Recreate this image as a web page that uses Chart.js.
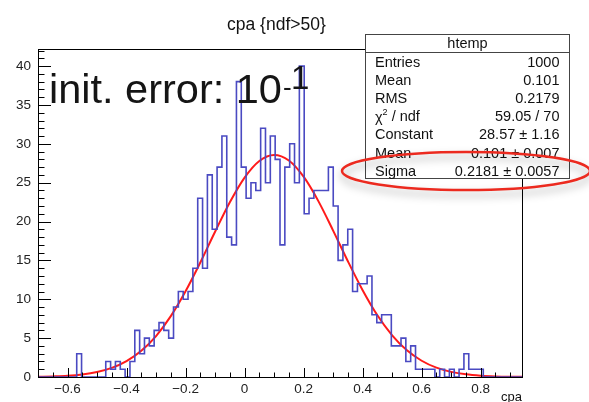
<!DOCTYPE html>
<html>
<head>
<meta charset="utf-8">
<script src="https://cdn.jsdelivr.net/npm/chart.js@4.4.1/dist/chart.umd.min.js"></script>
<style>
    body { margin: 0; background: #fff; }
    canvas { display: block; }
</style>
</head>
<body>
<canvas id="cpaChart" width="589" height="402"></canvas>
<script>
// #############################################################################
// Data

// htemp binning: 100 bins starting at -0.7
const binLow = -0.7;
const binWidth = 0.0164;
const binCounts = [
    0, 0, 0, 0, 0, 0, 0, 0, 3, 0, 0, 0, 0, 0,
    2, 1, 2, 1, 0, 2, 6, 3, 5, 4,
    6, 7, 6, 5, 9, 11, 10, 11, 14, 23,
    14, 26, 19, 27, 31, 18, 17, 38, 27, 23,
    25, 24, 32, 25, 31, 28, 17, 27, 30, 25,
    40, 21, 23, 24, 24, 24, 27, 22, 15, 17,
    19, 11, 12, 12, 13, 8, 7, 8, 8, 4,
    4, 5, 2, 4, 1, 1, 1, 1, 0, 1,
    0, 1, 0, 1, 3, 1, 1, 1, 0, 0,
    0, 0, 0, 0, 0, 0,
];

// gaussian fit curve
const fitX = [
    -0.7, -0.65, -0.6, -0.55, -0.5, -0.45, -0.4, -0.35, -0.3, -0.25, -0.2,
    -0.15, -0.1, -0.05, 0, 0.05, 0.1, 0.15, 0.2, 0.25, 0.3, 0.35, 0.4,
    0.45, 0.5, 0.55, 0.6, 0.65, 0.7, 0.75, 0.8, 0.85, 0.9, 0.94,
];
const fitY = [
    0.03, 0.08, 0.16, 0.33, 0.64, 1.17, 2.04, 3.37, 5.27, 7.83, 11.03,
    14.73, 18.68, 22.48, 25.66, 27.8, 28.57, 27.86, 25.77, 22.63, 18.84, 14.89, 11.17,
    7.94, 5.36, 3.43, 2.09, 1.2, 0.66, 0.34, 0.17, 0.08, 0.035, 0.017,
];

// axis labels
const xTicks = [-0.6, -0.4, -0.2, 0, 0.2, 0.4, 0.6, 0.8];
const yTicks = [0, 5, 10, 15, 20, 25, 30, 35, 40];

// stats box
const statsTitle = "htemp";
const statsNames = ["Entries", "Mean", "RMS", "chi2", "Constant", "Mean", "Sigma"];
const statsValues = ["1000", "0.101", "0.2179", "59.05 / 70", "28.57 \u00b1 1.16", "0.101 \u00b1 0.007", "0.2181 \u00b1 0.0057"];

const plotTitle = "cpa {ndf>50}";
const xTitle = "cpa";

// #############################################################################
// Drawing helpers

const fontName = "'Liberation Sans', Arial, sans-serif";

// ROOT style frame with inward ticks, stats box and annotations
const rootDecor = {
    id: "rootDecor",
    afterDatasetsDraw(chart) {
        const ctx = chart.ctx;
        const area = chart.chartArea;
        const xs = chart.scales.x;
        const ys = chart.scales.y;

        ctx.save();
        ctx.strokeStyle = "#000";
        ctx.lineWidth = 1;

        // ticks on x axis (minor every 0.05)
        ctx.beginPath();
        for (let k = -14; k <= 18; k++) {
            const px = Math.round(xs.getPixelForValue(k * 0.05)) + 0.5;
            const len = xTicks.some((t) => Math.abs(t - k * 0.05) < 1e-6) ? 9 : 4.5;
            ctx.moveTo(px, area.bottom);
            ctx.lineTo(px, area.bottom - len);
        }
        // ticks on y axis (minor every 1)
        for (let v = 0; v <= 42; v++) {
            const py = Math.round(ys.getPixelForValue(v)) + 0.5;
            const len = yTicks.includes(v) ? 13 : 6.5;
            ctx.moveTo(area.left, py);
            ctx.lineTo(area.left + len, py);
        }
        ctx.stroke();

        // frame
        ctx.strokeRect(area.left + 0.5, area.top + 0.5, area.right - area.left, area.bottom - area.top);
        ctx.restore();
    },
    afterDraw(chart) {
        const ctx = chart.ctx;
        const area = chart.chartArea;
        ctx.save();

        // title
        ctx.fillStyle = "#111";
        ctx.font = "17.5px " + fontName;
        ctx.textAlign = "left";
        ctx.textBaseline = "alphabetic";
        ctx.fillText(plotTitle, 227, 30);

        // x axis title
        ctx.font = "13px " + fontName;
        ctx.textAlign = "right";
        ctx.fillText(xTitle, area.right, 401);

        // stats box
        const bx = 365.5, by = 34.5, bw = 204, bh = 144;
        ctx.fillStyle = "#fff";
        ctx.fillRect(bx, by, bw, bh);
        ctx.strokeStyle = "#444";
        ctx.lineWidth = 1;
        ctx.strokeRect(bx, by, bw, bh);
        ctx.beginPath();
        ctx.moveTo(bx, 52.5);
        ctx.lineTo(bx + bw, 52.5);
        ctx.stroke();

        ctx.fillStyle = "#111";
        ctx.font = "14.5px " + fontName;
        ctx.textAlign = "center";
        ctx.textBaseline = "middle";
        ctx.fillText(statsTitle, bx + bw / 2, 43.5);

        statsNames.forEach((name, i) => {
            const rowY = 62.5 + i * 18.2;
            ctx.textAlign = "left";
            if (name === "chi2") {
                ctx.fillText("\u03c7", 375, rowY + 1);
                const cw = ctx.measureText("\u03c7").width;
                ctx.font = "9px " + fontName;
                ctx.fillText("2", 375 + cw, rowY - 5);
                ctx.font = "14.5px " + fontName;
                ctx.fillText(" / ndf", 375 + cw + 5, rowY);
            } else {
                ctx.fillText(name, 375, rowY);
            }
            ctx.textAlign = "right";
            ctx.fillText(statsValues[i], 559.5, rowY);
        });

        // red ellipse around Sigma, with soft shadow
        ctx.save();
        ctx.shadowColor = "rgba(0,0,0,0.35)";
        ctx.shadowBlur = 8;
        ctx.shadowOffsetY = 5;
        ctx.strokeStyle = "#ec2a1f";
        ctx.lineWidth = 2.5;
        ctx.beginPath();
        ctx.ellipse(466, 171, 124, 19, 0, 0, Math.PI * 2);
        ctx.stroke();
        ctx.restore();

        // big annotation
        ctx.fillStyle = "#151515";
        ctx.textAlign = "left";
        ctx.textBaseline = "alphabetic";
        ctx.font = "41.5px " + fontName;
        ctx.fillText("init. error: 10", 49, 103);
        const mainW = ctx.measureText("init. error: 10").width;
        ctx.font = "26px " + fontName;
        ctx.fillText("-", 49 + mainW + 1, 96);
        ctx.font = "33px " + fontName;
        ctx.fillText("1", 49 + mainW + 9, 89);

        ctx.restore();
    },
};

// #############################################################################
// Chart

const histPoints = binCounts.map((c, i) => ({ x: binLow + i * binWidth, y: c }));
histPoints.push({ x: binLow + binCounts.length * binWidth, y: binCounts[binCounts.length - 1] });

const fitPoints = fitX.map((x, i) => ({ x: x, y: fitY[i] }));

const ctx = document.getElementById("cpaChart").getContext("2d");
const chart = new Chart(ctx, {
    type: "line",
    data: {
        datasets: [
            {
                label: "htemp",
                data: histPoints,
                stepped: "before",
                borderColor: "#4a4ac2",
                borderWidth: 1.6,
                pointRadius: 0,
                fill: false,
            },
            {
                label: "gaus",
                data: fitPoints,
                borderColor: "#ff1a1a",
                borderWidth: 2,
                pointRadius: 0,
                cubicInterpolationMode: "monotone",
                fill: false,
            },
        ],
    },
    options: {
        responsive: false,
        animation: false,
        devicePixelRatio: 1,
        layout: { padding: { left: 0, top: 49, right: 67, bottom: 0 } },
        plugins: {
            legend: { display: false },
            tooltip: { enabled: false },
        },
        scales: {
            x: {
                type: "linear",
                min: -0.7,
                max: 0.94,
                grid: { display: false, drawTicks: false },
                border: { display: false },
                afterBuildTicks: (axis) => {
                    axis.ticks = xTicks.map((v) => ({ value: v }));
                },
                afterFit: (axis) => {
                    axis.height = 25;
                },
                ticks: {
                    padding: 4,
                    color: "#222",
                    font: { family: fontName, size: 13.5 },
                    maxRotation: 0,
                    callback: (v) => (v < 0 ? "\u2212" + Math.abs(v) : String(v)),
                },
            },
            y: {
                min: 0,
                max: 42.2,
                grid: { display: false, drawTicks: false },
                border: { display: false },
                afterBuildTicks: (axis) => {
                    axis.ticks = yTicks.map((v) => ({ value: v }));
                },
                afterFit: (axis) => {
                    axis.width = 38;
                },
                ticks: {
                    padding: 7,
                    color: "#222",
                    font: { family: fontName, size: 13.5 },
                },
            },
        },
    },
    plugins: [rootDecor],
});
</script>
</body>
</html>
